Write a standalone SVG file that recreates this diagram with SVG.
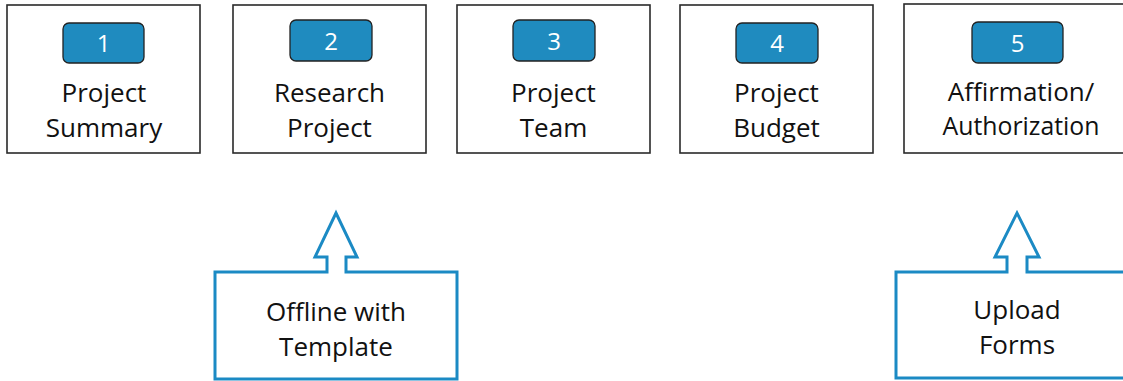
<svg xmlns="http://www.w3.org/2000/svg" width="1123" height="381" viewBox="0 0 1123 381">
<style>
.box{fill:#fff;stroke:#2a2a2a;stroke-width:1.6}
.badge{fill:#1f8bbf;stroke:#222;stroke-width:1.3}
.num{font-family:"Open Sans","Noto Sans",sans-serif;font-size:24px;fill:#fff;text-anchor:middle}
.lbl{font-family:"Open Sans","Noto Sans",sans-serif;font-size:26px;fill:#111;text-anchor:middle}
.call{fill:#fff;stroke:#1b8ac4;stroke-width:3;stroke-linejoin:miter}
</style>
<rect width="1123" height="381" fill="#fff"/>
<g id="node1">
<rect class="box" x="7" y="5" width="193" height="148"/>
<rect class="badge" x="63" y="23" width="81" height="40" rx="6"/>
<text class="num" x="103.5" y="52">1</text>
<text class="lbl" x="104" y="102">Project</text>
<text class="lbl" x="104" y="137">Summary</text>
</g>
<g id="node2">
<rect class="box" x="233" y="5" width="193" height="148"/>
<rect class="badge" x="290" y="20" width="82" height="41" rx="6"/>
<text class="num" x="331" y="50">2</text>
<text class="lbl" x="329.5" y="102">Research</text>
<text class="lbl" x="329.5" y="137">Project</text>
</g>
<g id="node3">
<rect class="box" x="457" y="5" width="193" height="148"/>
<rect class="badge" x="513" y="20" width="82" height="41" rx="6"/>
<text class="num" x="554" y="50">3</text>
<text class="lbl" x="553.5" y="102">Project</text>
<text class="lbl" x="553.5" y="137">Team</text>
</g>
<g id="node4">
<rect class="box" x="680" y="5" width="193" height="148"/>
<rect class="badge" x="736" y="23" width="82" height="40" rx="6"/>
<text class="num" x="777" y="52">4</text>
<text class="lbl" x="776.5" y="102">Project</text>
<text class="lbl" x="776.5" y="137">Budget</text>
</g>
<g id="node5">
<rect class="box" x="904" y="4" width="230" height="149"/>
<rect class="badge" x="972" y="22" width="91" height="41" rx="6"/>
<text class="num" x="1017.5" y="52">5</text>
<text class="lbl" x="1021" y="101">Affirmation/</text>
<text class="lbl" x="1021" y="135" textLength="157" lengthAdjust="spacingAndGlyphs">Authorization</text>
</g>
<g id="callout1">
<path class="call" d="M215,379 V272 H327 V257 H315 L336,213 L357,257 H346 V272 H457 V379 Z"/>
<text class="lbl" x="336" y="321">Offline with</text>
<text class="lbl" x="336" y="356">Template</text>
</g>
<g id="callout2">
<path class="call" d="M896,378 V272 H1007 V257 H995 L1017,213 L1039,257 H1027 V272 H1130 V378 Z"/>
<text class="lbl" x="1017" y="319">Upload</text>
<text class="lbl" x="1017" y="354">Forms</text>
</g>
<g id="connectors"></g>
</svg>
